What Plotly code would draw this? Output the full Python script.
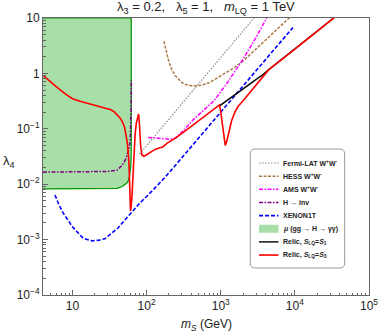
import plotly.graph_objects as go

# ---------------- data ----------------
green_m = [4, 30, 40, 47, 52, 55, 58, 59.5, 61, 61.8, 62, 62, 4]
green_lam = [0.0082, 0.0082, 0.0084, 0.0091, 0.0099, 0.0107, 0.0125, 0.0147, 0.02, 0.03, 0.05, 10, 10]

fermi_m = [80, 150, 245, 300, 600, 1000, 2000, 2900]
fermi_lam = [0.035, 0.095, 0.207, 0.286, 0.86, 1.94, 5.85, 10.5]

hess_m = [171, 185, 200, 220, 245, 300, 350, 424, 550, 700, 1000, 1500, 2000, 3000, 5000, 8500]
hess_lam = [3.8, 2.3, 1.6, 1.15, 0.9, 0.68, 0.62, 0.59, 0.61, 0.68, 0.9, 1.25, 1.67, 2.8, 5.2, 10.2]

ams_m = [105, 130, 160, 200, 245, 330, 424, 600, 810, 1200, 2000, 3000, 4200]
ams_lam = [0.07, 0.068, 0.066, 0.065, 0.068, 0.1, 0.145, 0.22, 0.32, 0.65, 1.8, 4.5, 10.2]

hinv_m = [4, 10, 20, 30, 40, 47, 52, 55, 58, 60, 61, 61.6, 62, 62.2]
hinv_lam = [0.0165, 0.0165, 0.0166, 0.017, 0.018, 0.022, 0.028, 0.035, 0.045, 0.06, 0.1, 0.2, 0.45, 0.75]

xenon_m = [5.8, 6.5, 7.5, 8.7, 10, 12, 14, 18.4, 23, 27.4, 34, 40.8, 50, 60.5, 80, 100, 165, 245, 500, 1000, 2000, 5000, 9400]
xenon_lam = [0.0064, 0.0044, 0.003, 0.0022, 0.0017, 0.0013, 0.00105, 0.00095, 0.00098, 0.00104, 0.0013, 0.0016,
             0.0022, 0.003, 0.0045, 0.006, 0.012, 0.022, 0.068, 0.2, 0.59, 2.5, 6.7]

relic1_m = [962, 1000, 1100, 1200, 1400, 1700, 2000, 2400, 3000, 3500, 4450, 10000, 20000, 34000]
relic1_lam = [0.26, 0.27, 0.29, 0.32, 0.37, 0.44, 0.52, 0.62, 0.77, 0.9, 1.17, 2.75, 5.7, 10.2]

relic3_m = [4.0, 4.5, 5.2, 6.2, 7.9, 10, 13, 16.6, 22, 27.8, 33, 37, 40.8, 44, 47, 50, 52, 55, 57.7, 59.5,
            60.6, 61.5, 63.2, 65.7, 67, 70, 72.5, 76, 78, 80, 81, 83, 86, 92, 100, 110, 128, 140, 165, 190,
            210, 245, 350, 500, 700, 962, 1000, 1050, 1100, 1150, 1200, 1270, 1330, 1400, 1550, 1700, 2000,
            2400, 3000, 3500, 4450, 10000, 20000, 34000]
relic3_lam = [0.92, 0.8, 0.67, 0.56, 0.43, 0.35, 0.31, 0.285, 0.26, 0.24, 0.22, 0.2, 0.175, 0.155, 0.135, 0.11,
              0.085, 0.055, 0.025, 0.0095, 0.0033, 0.0038, 0.0055, 0.02, 0.04, 0.08, 0.125, 0.17, 0.185, 0.12,
              0.085, 0.05, 0.034, 0.032, 0.034, 0.037, 0.042, 0.044, 0.047, 0.055, 0.06, 0.068, 0.097, 0.138,
              0.195, 0.27, 0.2, 0.125, 0.078, 0.05, 0.058, 0.077, 0.1, 0.14, 0.2, 0.25, 0.32, 0.43, 0.62, 0.8,
              1.17, 2.75, 5.7, 10.2]

x_tickvals = [10, 100, 1000, 10000, 100000]
x_ticktext = ["10", "10<sup>2</sup>", "10<sup>3</sup>", "10<sup>4</sup>", "10<sup>5</sup>"]
y_tickvals = [1e-4, 1e-3, 1e-2, 1e-1, 1, 10]
y_ticktext = ["10<sup>\u22124</sup>", "10<sup>\u22123</sup>", "10<sup>\u22122</sup>", "10<sup>\u22121</sup>", "1", "10"]

legend_labels = [
    "Fermi-LAT W<sup>+</sup>W<sup>-</sup>",
    "HESS W<sup>+</sup>W<sup>-</sup>",
    "AMS W<sup>+</sup>W<sup>-</sup>",
    "H \u2192 inv",
    "XENON1T",
    "<i>\u03bc</i> (gg \u2192 H \u2192 \u03b3\u03b3)",
    "Relic, <i>S</i><sub>LQ</sub>=<i>S</i><sub>1</sub>",
    "Relic, <i>S</i><sub>LQ</sub>=<i>S</i><sub>3</sub>",
]

# ---------------- styles ----------------
GRAY = "#8c8c8c"
BROWN = "#a97843"
MAGENTA = "#ff00ff"
PURPLE = "#800080"
BLUE = "#0000ff"
GREEN_LINE = "rgb(0,150,0)"
GREEN_FILL = "rgb(168,222,168)"
RED = "#ff0000"

styles = [
    dict(color=GRAY, dash="1.5px,1.5px", width=1.2),
    dict(color=BROWN, dash="3px,1.5px", width=1.5),
    dict(color=MAGENTA, dash="4px,1.5px,1.5px,1.5px", width=1.5),
    dict(color=PURPLE, dash="4px,1.5px,1.5px,1.5px", width=1.5),
    dict(color=BLUE, dash="4px,2px", width=1.6),
    None,
    dict(color="black", dash="solid", width=1.4),
    dict(color=RED, dash="solid", width=1.6),
]

fig = go.Figure()
fig.add_trace(go.Scatter(x=green_m, y=green_lam, mode="lines", fill="toself", fillcolor=GREEN_FILL,
                         line=dict(color=GREEN_LINE, width=1.2), showlegend=False, hoverinfo="skip"))
series = [(fermi_m, fermi_lam, 0), (hess_m, hess_lam, 1), (ams_m, ams_lam, 2), (hinv_m, hinv_lam, 3),
          (xenon_m, xenon_lam, 4), (relic1_m, relic1_lam, 6), (relic3_m, relic3_lam, 7)]
for xs, ys, k in series:
    fig.add_trace(go.Scatter(x=xs, y=ys, mode="lines", line=styles[k], showlegend=False,
                             name=legend_labels[k], hoverinfo="skip"))

# ---------------- layout ----------------
W, H = 387, 332
L, R, T, B = 43, 378, 18, 295


def px(x):
    return (x - L) / (R - L)


def py(y):
    return (B - y) / (B - T)


FONT = "Arial, Liberation Sans, sans-serif"
FRAME = "#666666"

x_minor = [k * 10 ** e for e in range(0, 5) for k in range(2, 10) if 4 <= k * 10 ** e < 1e5]
y_minor = [k * 10.0 ** e for e in range(-4, 1) for k in range(2, 10)]

axis_common = dict(type="log", showgrid=False, zeroline=False, showline=True, linecolor=FRAME, linewidth=1,
                   mirror=True, ticks="inside", ticklen=5, tickwidth=1, tickcolor=FRAME,
                   tickfont=dict(family=FONT, size=12, color="#222222"), tickmode="array",
                   ticklabeloverflow="allow")

fig.update_xaxes(range=[0.602, 5], tickvals=x_tickvals, ticktext=x_ticktext,
                 minor=dict(tickmode="array", tickvals=x_minor, ticks="inside", ticklen=2.5,
                            tickcolor=FRAME, tickwidth=0.8), **axis_common)
fig.update_yaxes(range=[-4, 1], tickvals=y_tickvals, ticktext=y_ticktext,
                 minor=dict(tickmode="array", tickvals=y_minor, ticks="inside", ticklen=2.5,
                            tickcolor=FRAME, tickwidth=0.8), **axis_common)

annotations = [
    dict(text="\u03bb<sub>3</sub> = 0.2,   \u03bb<sub>5</sub> = 1,   <i>m</i><sub>LQ</sub> = 1 TeV",
         x=0.5, y=py(8), xref="paper", yref="paper", showarrow=False, xanchor="center", yanchor="middle",
         font=dict(family=FONT, size=13, color="#222222")),
    dict(text="\u03bb<sub>4</sub>", x=px(0), y=py(161), xref="paper", yref="paper", showarrow=False,
         xanchor="left", yanchor="middle", font=dict(family=FONT, size=13, color="#222222")),
    dict(text="<i>m</i><sub><i>S</i></sub> (GeV)", x=0.5, y=py(325), xref="paper", yref="paper",
         showarrow=False, xanchor="center", yanchor="middle", font=dict(family=FONT, size=12, color="#222222")),
]

# manual legend (compact rows like the reference)
bx0, bx1, by0, by1, rr = 256, 353, 149, 268, 5
path = (f"M {px(bx0 + rr)} {py(by0)} L {px(bx1 - rr)} {py(by0)} "
        f"Q {px(bx1)} {py(by0)} {px(bx1)} {py(by0 + rr)} L {px(bx1)} {py(by1 - rr)} "
        f"Q {px(bx1)} {py(by1)} {px(bx1 - rr)} {py(by1)} L {px(bx0 + rr)} {py(by1)} "
        f"Q {px(bx0)} {py(by1)} {px(bx0)} {py(by1 - rr)} L {px(bx0)} {py(by0 + rr)} "
        f"Q {px(bx0)} {py(by0)} {px(bx0 + rr)} {py(by0)} Z")
shapes = [dict(type="path", path=path, xref="paper", yref="paper", fillcolor="white",
               line=dict(color="#999999", width=1), layer="above")]
row0, dy = 163, 13.15
for i, lab in enumerate(legend_labels):
    yy = row0 + i * dy
    if styles[i] is None:
        shapes.append(dict(type="rect", xref="paper", yref="paper", x0=px(265), x1=px(285),
                           y0=py(yy - 4), y1=py(yy + 4), fillcolor=GREEN_FILL, line=dict(width=0),
                           layer="above"))
    else:
        st = styles[i]
        shapes.append(dict(type="line", xref="paper", yref="paper", x0=px(265), x1=px(285), y0=py(yy),
                           y1=py(yy), line=dict(color=st["color"], dash=st["dash"], width=st["width"]),
                           layer="above"))
    annotations.append(dict(text=f"<b>{lab}</b>", x=px(288), y=py(yy), xref="paper", yref="paper",
                            showarrow=False, xanchor="left", yanchor="middle",
                            font=dict(family=FONT, size=7, color="#222222")))

fig.update_layout(width=W, height=H, autosize=False, margin=dict(l=L, r=W - R, t=T, b=H - B),
                  paper_bgcolor="white", plot_bgcolor="white", showlegend=False,
                  annotations=annotations, shapes=shapes)

fig.write_html("out.html", config={"displayModeBar": False},
               post_script="document.body.style.margin='0';document.body.style.overflow='hidden';")
